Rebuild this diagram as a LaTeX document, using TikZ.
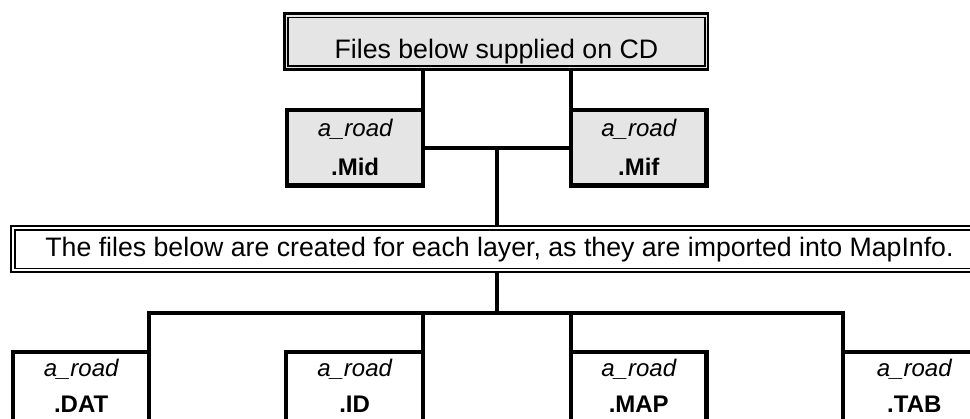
\documentclass[tikz,border=0pt]{standalone}
\usepackage{fontspec}
\setmainfont{Liberation Sans}
\usetikzlibrary{calc}
\definecolor{boxgray}{RGB}{229,229,229}
\begin{document}
\begin{tikzpicture}[x=1pt,y=-1pt,
  frame/.style={draw, rectangle, inner sep=0pt, outer sep=0pt, anchor=north west},
  titlebox/.style={frame, line width=2.3pt},
  filebox/.style={frame, line width=4.3pt, minimum width=136pt},
  conn/.style={line width=4.3pt},
  inner/.style={line width=1.5pt},
  bigtxt/.style={anchor=base, inner sep=0pt, font=\fontsize{26.7}{30}\selectfont},
  nametxt/.style={anchor=base, inner sep=0pt, font=\fontsize{24}{28}\selectfont\itshape},
  exttxt/.style={anchor=base, inner sep=0pt, font=\fontsize{24}{28}\selectfont\bfseries}
]
\clip (0,0) rectangle (970,419);
\fill[white] (0,0) rectangle (970,419);

% title boxes
\node[titlebox, fill=boxgray, minimum width=423.8pt, minimum height=56pt] (top) at (284.5,13.5) {};
\draw[inner] ($(top.north west)+(3.5,4)$) rectangle ($(top.south east)+(-3.3,-3.5)$);
\node[bigtxt] (toptxt) at ($(top.north)+(0,45.5)$) {Files below supplied on CD};

\node[titlebox, fill=white, minimum width=1000pt, minimum height=45.8pt] (layer) at (11,226.2) {};
\draw[inner] ($(layer.north west)+(4.2,4)$) rectangle ($(layer.south east)+(-4.2,-3.5)$);
\node[bigtxt] (layertxt) at (499.5,256.5) {The files below are created for each layer, as they are imported into MapInfo.};

% supplied files
\node[filebox, fill=boxgray, minimum height=75.5pt, minimum width=136.3pt] (mid) at (287,110) {};
\node[filebox, fill=boxgray, minimum height=75.5pt, minimum width=135.5pt] (mif) at (571,110) {};
\node[nametxt] (midn) at ($(mid.north)+(0,26.5)$) {a\_road};
\node[exttxt] (mide) at ($(mid.north)+(0,66)$) {.Mid};
\node[nametxt] (mifn) at ($(mif.north)+(0,26.5)$) {a\_road};
\node[exttxt] (mife) at ($(mif.north)+(0,66)$) {.Mif};

% created files
\node[filebox, minimum height=120pt, minimum width=135.7pt] (dat) at (13.3,351.7) {};
\node[filebox, minimum height=120pt, minimum width=136.7pt] (id) at (286.3,351.7) {};
\node[filebox, minimum height=120pt, minimum width=135.5pt] (map) at (571,351.7) {};
\node[filebox, minimum height=120pt, minimum width=142pt] (tab) at (843.3,351.7) {};
\foreach \b/\e in {dat/.DAT, id/.ID, map/.MAP, tab/.TAB}{
  \node[nametxt] (\b n) at ($(\b.north)+(0,25)$) {a\_road};
  \node[exttxt] (\b e) at ($(\b.north)+(0,61)$) {\e};
}

% connectors
\coordinate (j1) at (497,147.75);
\coordinate (bus) at (497,313.3);
\draw[conn] (mid.north east) -- (mid.north east |- top.south);
\draw[conn] (mif.north west) -- (mif.north west |- top.south);
\draw[conn] (mid.east) -- (mif.west);
\draw[conn] (j1) -- (j1 |- layer.north);
\draw[conn] (j1 |- layer.south) -- (bus);
\draw[conn] (dat.north east) |- (bus) -| (tab.north west);
\draw[conn] (id.north east) -- (id.north east |- bus);
\draw[conn] (map.north west) -- (map.north west |- bus);
\end{tikzpicture}
\end{document}
